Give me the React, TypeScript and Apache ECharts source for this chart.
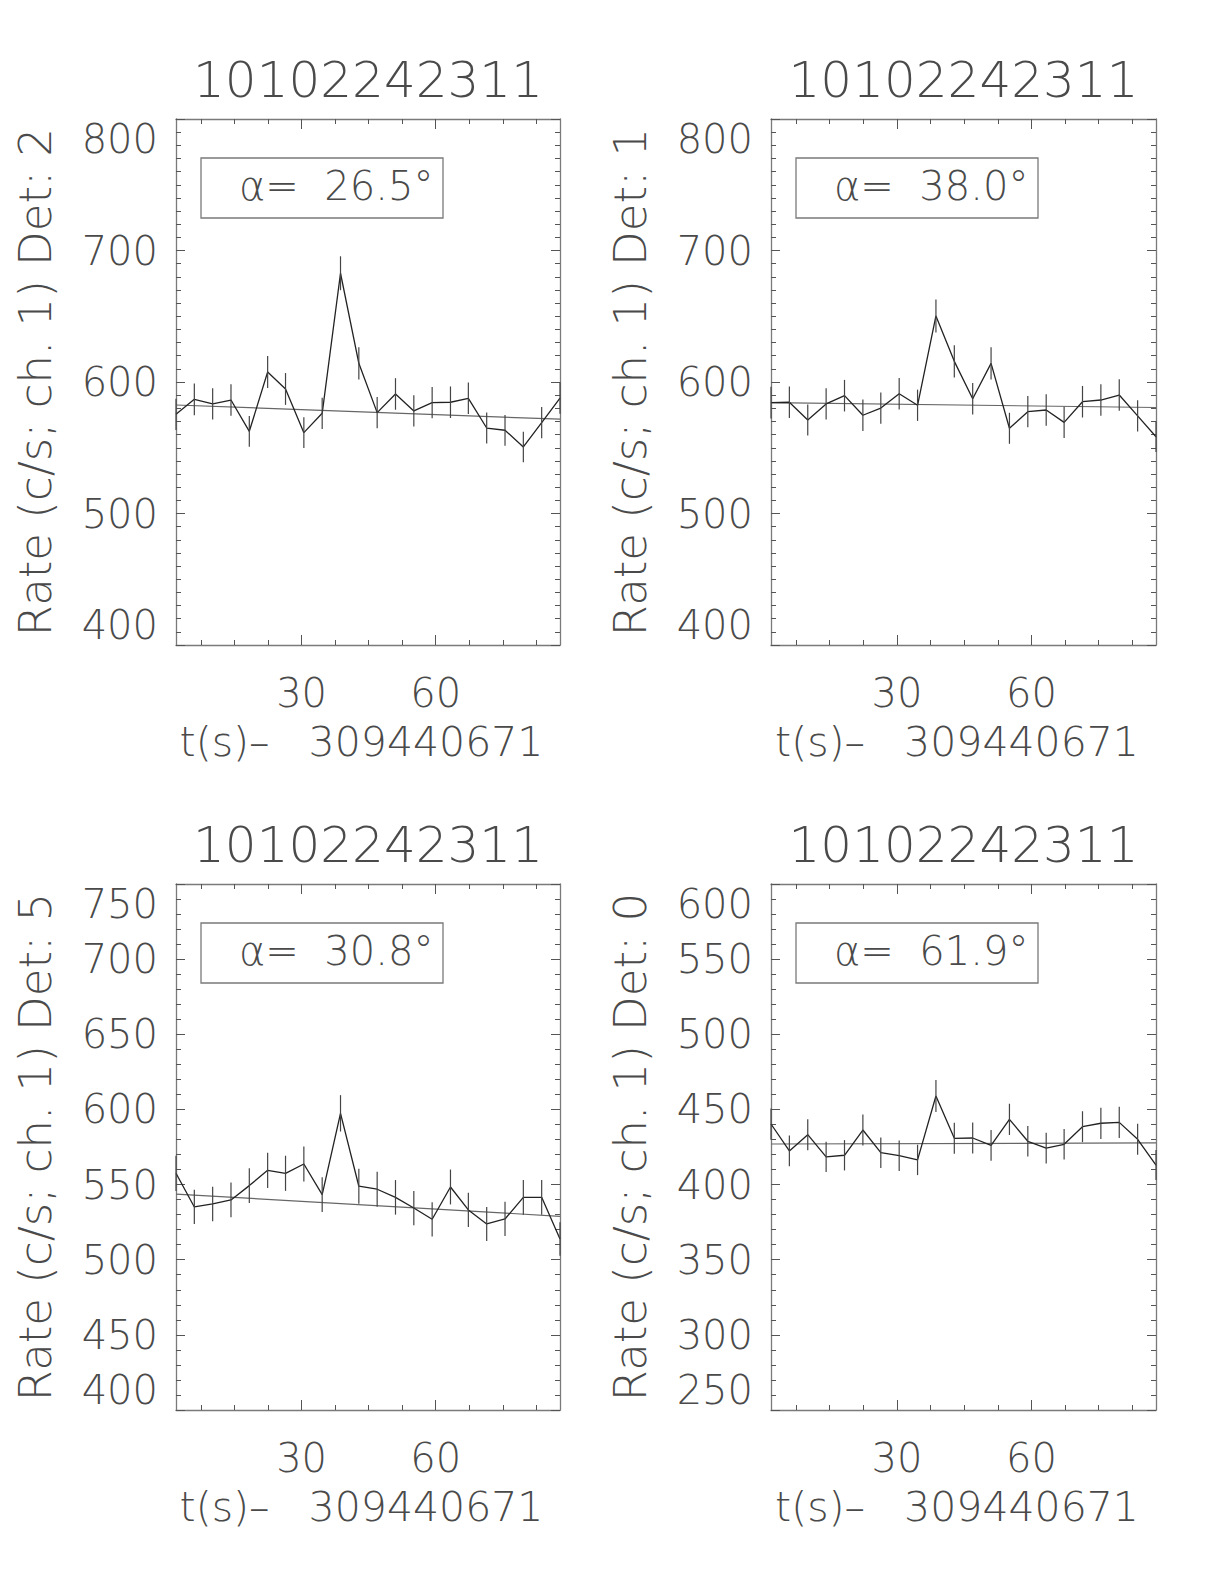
import React, { useEffect, useRef } from 'react';
import * as echarts from 'echarts';

// ---------------- data ----------------
const obsId = '10102242311';
const xName = 't(s)\u2013\u00a0\u00a0\u00a0309440671\u00a0';
const timeBins = [1.9, 6.0, 10.1, 14.2, 18.3, 22.4, 26.4, 30.5, 34.6, 38.7, 42.8, 46.9, 51.0, 55.1, 59.2, 63.3, 67.3, 71.4, 75.5, 79.6, 83.7, 87.8];
const xRange = [1.9, 87.8];
const xMajorTicks = [30, 60];
const xMinorTicks = [7.5, 15, 22.5, 37.5, 45, 52.5, 67.5, 75, 82.5];

const detectors = ['2', '1', '5', '0'];
const alphas = ['26.5', '38.0', '30.8', '61.9'];

const rateDet2 = [575.4, 586.8, 583.3, 586.3, 562.5, 607.6, 594.7, 561.5, 576.2, 682.7, 614.2, 576.7, 590.9, 578.0, 584.3, 584.6, 587.6, 565.0, 563.3, 550.6, 569.1, 587.8];
const errDet2 = [11.9, 12.0, 11.9, 12.0, 11.7, 12.2, 12.1, 11.7, 11.9, 12.9, 12.3, 11.9, 12.0, 11.9, 11.9, 12.0, 12.0, 11.8, 11.7, 11.6, 11.8, 12.0];
const fitDet2 = [582.5, 571.7];

const rateDet1 = [584.3, 584.6, 571.1, 583.3, 589.6, 574.7, 580.2, 591.1, 582.3, 650.2, 615.7, 587.3, 614.2, 564.8, 577.4, 578.7, 569.3, 585.0, 586.3, 590.1, 574.2, 558.4];
const errDet1 = [12.0, 12.0, 11.8, 11.9, 12.0, 11.9, 11.9, 12.0, 11.9, 12.6, 12.3, 12.0, 12.3, 11.8, 11.9, 11.9, 11.8, 12.0, 12.0, 12.0, 11.9, 11.7];
const fitDet1 = [584.3, 580.6];

const rateDet5 = [557.5, 535.1, 537.1, 539.8, 549.3, 559.5, 557.5, 563.7, 543.3, 597.4, 548.9, 546.9, 541.5, 534.4, 526.9, 548.4, 533.1, 523.8, 527.1, 541.5, 541.5, 513.8];
const errDet5 = [11.7, 11.4, 11.5, 11.5, 11.6, 11.7, 11.7, 11.7, 11.5, 12.1, 11.6, 11.6, 11.5, 11.4, 11.4, 11.6, 11.4, 11.3, 11.4, 11.5, 11.5, 11.2];
const fitDet5 = [543.7, 528.9];

const rateDet0 = [440.3, 422.4, 433.2, 418.4, 419.5, 436.3, 421.2, 419.2, 416.4, 458.9, 430.8, 431.0, 426.1, 443.4, 428.8, 424.2, 426.8, 438.5, 440.8, 441.4, 430.1, 413.0];
const errDet0 = [10.4, 10.2, 10.3, 10.1, 10.1, 10.3, 10.1, 10.1, 10.1, 10.6, 10.3, 10.3, 10.2, 10.4, 10.2, 10.2, 10.2, 10.3, 10.4, 10.4, 10.3, 10.0];
const fitDet0 = [427.0, 427.7];

const rates = [rateDet2, rateDet1, rateDet5, rateDet0];
const errors = [errDet2, errDet1, errDet5, errDet0];
const fits = [fitDet2, fitDet1, fitDet5, fitDet0];

const yMins = [400, 400, 400, 250];
const yMaxs = [800, 800, 750, 600];
const yMajor = [100, 100, 50, 50];
const yMinorSplit = [10, 10, 5, 5];

// ---------------- layout ----------------
const gridLefts = [176, 771, 176, 771];
const gridTops = [119, 119, 884, 884];
const gridWidths = [384, 385, 384, 385];
const gridHeight = 526;

const FONT = '"DejaVu Sans ExtraLight", "DejaVu Sans", "Liberation Sans", sans-serif';
const TEXT = '#4a4a4a';
const AXIS = '#7a7a7a';

function buildOption() {
  const grid: any[] = [];
  const xAxis: any[] = [];
  const yAxis: any[] = [];
  const series: any[] = [];
  const graphic: any[] = [];

  for (let i = 0; i < 4; i++) {
    grid.push({ left: gridLefts[i], top: gridTops[i], width: gridWidths[i], height: gridHeight, containLabel: false });

    const baseX = {
      type: 'value', gridIndex: i, min: xRange[0], max: xRange[1],
      splitLine: { show: false },
    };
    xAxis.push({
      ...baseX, position: 'bottom',
      axisLine: { show: true, lineStyle: { color: AXIS, width: 1.3 } },
      axisTick: { show: true, inside: true, length: 5, customValues: xMinorTicks, lineStyle: { color: '#555', width: 1 } },
      axisLabel: { show: false },
    });
    xAxis.push({
      ...baseX, position: 'bottom',
      axisLine: { show: false },
      axisTick: { show: true, inside: true, length: 10, customValues: xMajorTicks, lineStyle: { color: '#555', width: 1 } },
      axisLabel: { show: true, customValues: xMajorTicks, fontSize: 40, fontFamily: FONT, fontWeight: 200, color: TEXT, margin: 28 },
      name: xName, nameLocation: 'middle', nameGap: 76,
      nameTextStyle: { fontSize: 41, fontFamily: FONT, fontWeight: 200, color: TEXT },
    });
    xAxis.push({
      ...baseX, position: 'top',
      axisLine: { show: true, lineStyle: { color: AXIS, width: 1.3 } },
      axisTick: { show: true, inside: true, length: 5, customValues: xMinorTicks, lineStyle: { color: '#555', width: 1 } },
      axisLabel: { show: false },
    });
    xAxis.push({
      ...baseX, position: 'top',
      axisLine: { show: false },
      axisTick: { show: true, inside: true, length: 10, customValues: xMajorTicks, lineStyle: { color: '#555', width: 1 } },
      axisLabel: { show: false },
    });

    const baseY = {
      type: 'value', gridIndex: i, min: yMins[i], max: yMaxs[i], interval: yMajor[i],
      splitLine: { show: false },
      axisLine: { show: true, lineStyle: { color: AXIS, width: 1.3 } },
      axisTick: { show: true, inside: true, length: 9, lineStyle: { color: '#555', width: 1 } },
      minorTick: { show: true, splitNumber: yMinorSplit[i], length: 5, lineStyle: { color: '#555', width: 1 } },
    };
    yAxis.push({
      ...baseY, position: 'left',
      axisLabel: {
        show: true, fontSize: 40, fontFamily: FONT, fontWeight: 200, color: TEXT, margin: 18,
        verticalAlignMinLabel: 'bottom', verticalAlignMaxLabel: 'top',
      },
      name: 'Rate (c/s; ch. 1) Det: ' + detectors[i], nameLocation: 'middle', nameGap: 118, nameRotate: 90,
      nameTextStyle: { fontSize: 45, fontFamily: FONT, fontWeight: 200, color: TEXT },
    });
    yAxis.push({ ...baseY, position: 'right', axisLabel: { show: false } });

    const xi = 4 * i;
    const yi = 2 * i;
    series.push({
      type: 'line', xAxisIndex: xi, yAxisIndex: yi, symbol: 'none', silent: true, z: 2,
      data: [[xRange[0], fits[i][0]], [xRange[1], fits[i][1]]],
      lineStyle: { color: '#666', width: 1.2 },
    });
    series.push({
      type: 'line', xAxisIndex: xi, yAxisIndex: yi, symbol: 'none', silent: true, z: 3,
      data: timeBins.map((t, k) => [t, rates[i][k]]),
      lineStyle: { color: '#222', width: 1.3 },
    });
    series.push({
      type: 'custom', xAxisIndex: xi, yAxisIndex: yi, silent: true, z: 4,
      data: timeBins.map((t, k) => [t, rates[i][k], errors[i][k]]),
      encode: { x: 0, y: 1 },
      renderItem: (params: any, api: any) => {
        const x = api.value(0);
        const y = api.value(1);
        const e = api.value(2);
        const p1 = api.coord([x, y - e]);
        const p2 = api.coord([x, y + e]);
        return {
          type: 'line',
          shape: { x1: p1[0], y1: p1[1], x2: p2[0], y2: p2[1] },
          style: { stroke: '#444', lineWidth: 1.2 },
        };
      },
    });

    graphic.push({
      type: 'text', x: gridLefts[i] + gridWidths[i] / 2, y: gridTops[i] - 39,
      style: { text: obsId, fontSize: 50, fontFamily: FONT, fontWeight: 200, fill: TEXT, align: 'center', verticalAlign: 'middle' },
    });
    graphic.push({
      type: 'rect', shape: { x: gridLefts[i] + 25, y: gridTops[i] + 39, width: 242, height: 60 },
      style: { fill: 'none', stroke: AXIS, lineWidth: 1.3 },
    });
    graphic.push({
      type: 'text', x: gridLefts[i] + 63, y: gridTops[i] + 67,
      style: { text: 'α=\u00a0\u00a0' + alphas[i] + '°', fontSize: 40, fontFamily: FONT, fontWeight: 200, fill: TEXT, align: 'left', verticalAlign: 'middle' },
    });
  }

  return {
    animation: false,
    backgroundColor: '#ffffff',
    grid, xAxis, yAxis, series, graphic,
  };
}

export default function App() {
  const ref = useRef<HTMLDivElement>(null);
  useEffect(() => {
    if (!ref.current) return;
    const chart = echarts.init(ref.current, undefined, { renderer: 'svg' });
    chart.setOption(buildOption() as any);
    return () => chart.dispose();
  }, []);
  return (
    <div
      ref={ref}
      style={{ position: 'absolute', left: 0, top: 0, width: 1224, height: 1584, background: '#fff' }}
    />
  );
}
